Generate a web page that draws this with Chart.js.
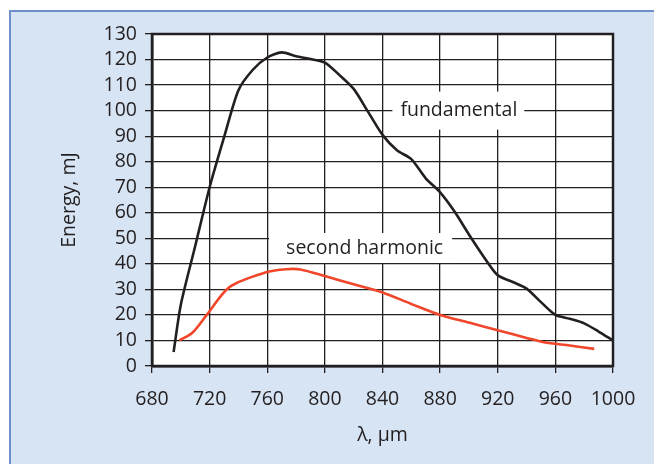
<!DOCTYPE html>
<html>
<head>
<meta charset="utf-8">
<script src="https://cdn.jsdelivr.net/npm/chart.js@4.4.1/dist/chart.umd.min.js"></script>
<style>
  html, body { margin: 0; padding: 0; background: #ffffff; }
  #wrap { position: relative; width: 654px; height: 464px; overflow: hidden; }
  #panel {
    position: absolute; left: 9px; top: 10px; width: 660px; height: 470px;
    background: #d7e4f4;
    border-left: 2px solid #6f8fca; border-top: 2px solid #6f8fca;
  }
  #energyChart { position: absolute; left: 0; top: 0; }
</style>
</head>
<body>
<div id="wrap">
  <div id="panel"></div>
  <canvas id="energyChart" width="654" height="464"></canvas>
</div>
<script>
// wavelength, µm  /  energy, mJ
const fundWl = [695, 700, 710, 720, 730, 740, 750, 760, 770, 780, 790, 800, 810, 820, 830, 840,
                850, 860, 870, 880, 890, 900, 910, 920, 930, 940, 950, 960, 970, 980, 990, 1000];
const fundEnergy = [5.5, 24, 47, 70, 89.5, 108, 116, 120.8, 122.8, 121.3, 120.2, 118.8, 114, 108.5, 99.5, 90.5,
                    84.5, 81, 73.5, 68, 60.5, 51.5, 43, 35.5, 33, 30.3, 25, 20, 18.5, 16.7, 13.5, 10];

const shWl = [699, 708, 718, 734, 760, 773, 783, 800, 820, 840, 860, 880, 900, 920, 940, 952, 970, 987];
const shEnergy = [10, 13, 20, 31, 36.8, 37.9, 37.8, 35.2, 32, 28.8, 24.3, 20, 17, 14, 11, 9.3, 8, 6.7];

const xTicks = [680, 720, 760, 800, 840, 880, 920, 960, 1000];
const yTicks = [0, 10, 20, 30, 40, 50, 60, 70, 80, 90, 100, 110, 120, 130];

const seriesNames = ["fundamental", "second harmonic"];

const ink = "#231f20";
const fontFamily = "'Open Sans', 'Noto Sans', sans-serif";
const fontSize = 19.5;

function toPoints(xs, ys) {
    return xs.map((x, i) => ({ x: x, y: ys[i] }));
}

// text labels with a white box over the grid
const notes = [
    { text: seriesNames[0], x: 893, y: 100, padL: 8, padR: 7, h: 38 },
    { text: seriesNames[1], x: 827.6, y: 46.2, padL: 17, padR: 9, h: 30 }
];

const boxPlot = {
    id: "boxPlot",
    beforeDatasetsDraw(chart) {
        const c = chart.ctx;
        const sx = chart.scales.x, sy = chart.scales.y;
        c.save();
        c.font = fontSize + "px " + fontFamily;
        c.textAlign = "center";
        c.textBaseline = "middle";
        notes.forEach(n => {
            const px = sx.getPixelForValue(n.x);
            const py = sy.getPixelForValue(n.y);
            const w = c.measureText(n.text).width;
            c.fillStyle = "#ffffff";
            c.fillRect(px - w / 2 - n.padL, py - n.h / 2, w + n.padL + n.padR, n.h);
            c.fillStyle = ink;
            c.fillText(n.text, px, py);
        });
        c.restore();
    },
    afterDraw(chart) {
        const a = chart.chartArea;
        const c = chart.ctx;
        c.save();
        c.strokeStyle = ink;
        c.lineWidth = 2.5;
        c.strokeRect(a.left, a.top, a.right - a.left, a.bottom - a.top);
        c.restore();
    }
};

const whiteArea = {
    id: "whiteArea",
    beforeDraw(chart) {
        const a = chart.chartArea;
        chart.ctx.save();
        chart.ctx.fillStyle = "#ffffff";
        chart.ctx.fillRect(a.left, a.top, a.right - a.left, a.bottom - a.top);
        chart.ctx.restore();
    }
};

new Chart(document.getElementById("energyChart").getContext("2d"), {
    type: "line",
    data: {
        datasets: [{
            label: seriesNames[0],
            data: toPoints(fundWl, fundEnergy),
            borderColor: ink,
            borderWidth: 2.6,
            pointRadius: 0,
            tension: 0.25,
            fill: false
        }, {
            label: seriesNames[1],
            data: toPoints(shWl, shEnergy),
            borderColor: "#f0462a",
            borderWidth: 2.6,
            pointRadius: 0,
            tension: 0.3,
            fill: false
        }]
    },
    options: {
        responsive: false,
        animation: false,
        devicePixelRatio: 1,
        layout: { padding: { left: 0, top: 34, right: 41, bottom: 0 } },
        plugins: {
            legend: { display: false },
            tooltip: { enabled: false }
        },
        scales: {
            x: {
                type: "linear",
                min: 680,
                max: 1000,
                afterBuildTicks: s => { s.ticks = xTicks.map(v => ({ value: v })); },
                afterFit: s => { s.height = 98; },
                ticks: {
                    color: ink, padding: 15, autoSkip: false, maxRotation: 0,
                    font: { family: fontFamily, size: fontSize },
                    callback: v => String(v)
                },
                grid: { color: ink, lineWidth: 1.3, tickLength: 7 },
                border: { color: ink, width: 2.5 },
                title: {
                    display: true,
                    text: "λ, µm",
                    color: ink,
                    padding: { top: 0, bottom: 17 },
                    font: { family: fontFamily, size: fontSize }
                }
            },
            y: {
                min: 0,
                max: 130,
                afterBuildTicks: s => { s.ticks = yTicks.map(v => ({ value: v })); },
                afterFit: s => { s.width = 152; },
                ticks: {
                    color: ink, padding: 8, autoSkip: false,
                    font: { family: fontFamily, size: fontSize },
                    callback: v => String(v)
                },
                grid: { color: ink, lineWidth: 1.3, tickLength: 7 },
                border: { color: ink, width: 2.5 },
                title: {
                    display: true,
                    text: "Energy, mJ",
                    color: ink,
                    padding: { top: 58, bottom: 0 },
                    font: { family: fontFamily, size: fontSize }
                }
            }
        }
    },
    plugins: [whiteArea, boxPlot]
});
</script>
</body>
</html>
